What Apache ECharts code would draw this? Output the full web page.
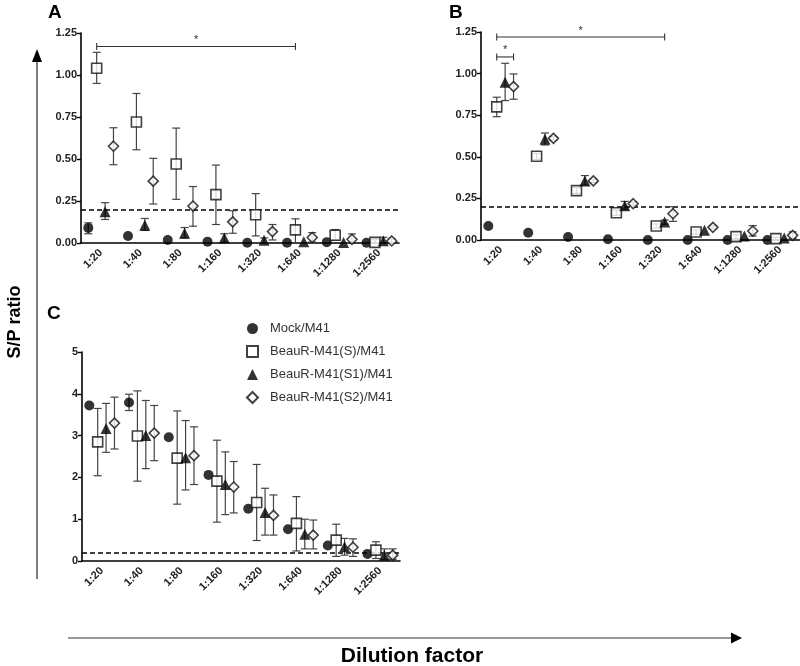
<!DOCTYPE html>
<html>
<head>
<meta charset="utf-8">
<script src="https://cdn.jsdelivr.net/npm/echarts@6/dist/echarts.min.js"></script>
<style>html,body{margin:0;padding:0;background:#fff}#c{width:800px;height:666px}</style>
</head>
<body>
<div id="c"></div>
<script>
const categories = ['1:20','1:40','1:80','1:160','1:320','1:640','1:1280','1:2560'];
const seriesNames = ['Mock/M41','BeauR-M41(S)/M41','BeauR-M41(S1)/M41','BeauR-M41(S2)/M41'];
const yTicksA = [0, 0.25, 0.5, 0.75, 1.0, 1.25];
const yTicksC = [0, 1, 2, 3, 4, 5];
const cutoff = 0.2;

// Panel A
const aMock = [0.09, 0.042, 0.018, 0.008, 0.002, 0.001, 0.005, 0.001];
const aMockErr = [[0.055,0.12], null, null, null, null, null, null, null];
const aS = [1.04, 0.72, 0.47, 0.288, 0.168, 0.078, 0.046, 0.004];
const aSErr = [[0.95,1.135],[0.555,0.89],[0.26,0.684],[0.11,0.464],[0.042,0.294],[0.0,0.144],[0.018,0.08],[0,0.02]];
const aS1 = [0.186, 0.106, 0.058, 0.03, 0.016, 0.008, 0.003, 0.013];
const aS1Err = [[0.14,0.24],[0.075,0.146],[0.03,0.092],[0.005,0.055],[0,0.03],null,null,[0,0.034]];
const aS2 = [0.576, 0.368, 0.22, 0.126, 0.068, 0.033, 0.022, 0.012];
const aS2Err = [[0.466,0.686],[0.232,0.504],[0.1,0.336],[0.058,0.192],[0.018,0.11],[0.006,0.062],[0,0.054],[0,0.025]];

// Panel B
const bMock = [0.084, 0.044, 0.018, 0.005, 0.0, 0.0, 0.0, 0.0];
const bMockErr = [null, null, null, null, null, null, null, null];
const bS = [0.80, 0.503, 0.297, 0.164, 0.084, 0.048, 0.02, 0.008];
const bSErr = [[0.741,0.858],[0.485,0.52],[0.28,0.315],[0.148,0.18],[0.072,0.096],[0.036,0.06],[0.008,0.032],[0,0.016]];
const bS1 = [0.948, 0.605, 0.355, 0.206, 0.108, 0.058, 0.024, 0.012];
const bS1Err = [[0.838,1.062],[0.571,0.643],[0.33,0.387],[0.185,0.232],[0.095,0.12],null,null,null];
const bS2 = [0.922, 0.611, 0.355, 0.218, 0.158, 0.076, 0.054, 0.028];
const bS2Err = [[0.846,0.998],[0.6,0.622],[0.345,0.365],[0.21,0.228],[0.112,0.2],[0.068,0.085],[0.024,0.086],[0.008,0.049]];

// Panel C
const cMock = [3.72, 3.79, 2.96, 2.06, 1.25, 0.76, 0.37, 0.17];
const cMockErr = [null, [3.6,3.99], null, null, null, null, null, null];
const cS = [2.85, 2.99, 2.46, 1.91, 1.40, 0.90, 0.50, 0.26];
const cSErr = [[2.04,3.65],[1.91,4.07],[1.36,3.59],[0.93,2.89],[0.49,2.31],[0.24,1.54],[0.11,0.88],[0.06,0.46]];
const cS1 = [3.17, 3.0, 2.47, 1.83, 1.16, 0.64, 0.34, 0.14];
const cS1Err = [[2.6,3.77],[2.21,3.84],[1.7,3.36],[1.11,2.61],[0.62,1.74],[0.29,1.0],[0.14,0.54],[0.04,0.29]];
const cS2 = [3.3, 3.06, 2.52, 1.77, 1.09, 0.62, 0.33, 0.14];
const cS2Err = [[2.68,3.92],[2.4,3.72],[1.83,3.21],[1.15,2.38],[0.62,1.58],[0.29,0.98],[0.11,0.53],[0.04,0.29]];

// significance brackets: [fromCategory, fromSeries, toCategory, toSeries, yLevel]
const bracketsA = [[0, 1, 5, 1, 1.17]];
const bracketsB = [[0, 1, 4, 2, 1.22], [0, 1, 0, 3, 1.10]];

const OFFS = [-12.6, -4.2, 4.2, 12.6];
const FONT = '"Liberation Sans", Arial, sans-serif';

const markerStyles = [
  {symbol:'circle', symbolSize:10, itemStyle:{color:'#000'}},
  {symbol:'rect', symbolSize:10, itemStyle:{color:'#fff', borderColor:'#111', borderWidth:1.6}},
  {symbol:'triangle', symbolSize:11, itemStyle:{color:'#000'}},
  {symbol:'diamond', symbolSize:10, itemStyle:{color:'#fff', borderColor:'#111', borderWidth:1.6}}
];

const panels = [
  {means:[aMock,aS,aS1,aS2], errs:[aMockErr,aSErr,aS1Err,aS2Err], brackets:bracketsA, max:1.25, interval:0.25, dec:2,
   grid:{left:81, top:33, width:318, height:210}},
  {means:[bMock,bS,bS1,bS2], errs:[bMockErr,bSErr,bS1Err,bS2Err], brackets:bracketsB, max:1.25, interval:0.25, dec:2,
   grid:{left:481, top:32, width:319, height:208}},
  {means:[cMock,cS,cS1,cS2], errs:[cMockErr,cSErr,cS1Err,cS2Err], brackets:[], max:5, interval:1, dec:0,
   grid:{left:82, top:352, width:318, height:209}}
];

const grids = [], xAxes = [], yAxes = [], series = [];
panels.forEach((p, pi) => {
  grids.push(Object.assign({containLabel:false}, p.grid));
  xAxes.push({
    type:'category', gridIndex:pi, data:categories, boundaryGap:true,
    axisLine:{lineStyle:{color:'#000', width:1.6}},
    axisTick:{alignWithLabel:true, length:5, lineStyle:{color:'#000', width:1.4}},
    axisLabel:{rotate:45, margin:8, fontSize:11, fontWeight:'bold', color:'#222', fontFamily:FONT, interval:0},
    splitLine:{show:false}
  });
  yAxes.push({
    type:'value', gridIndex:pi, min:0, max:p.max, interval:p.interval,
    axisLine:{show:true, lineStyle:{color:'#000', width:1.6}},
    axisTick:{show:true, length:4, lineStyle:{color:'#000', width:1.4}},
    axisLabel:{fontSize:11, fontWeight:'bold', color:'#222', fontFamily:FONT, margin:4,
      formatter: v => v.toFixed(p.dec)},
    splitLine:{show:false}
  });
  // error bars
  p.errs.forEach((errArr, si) => {
    const data = [];
    errArr.forEach((e, i) => { if (e) data.push([i, e[0], e[1]]); });
    const off = OFFS[si];
    series.push({
      type:'custom', name:'err'+pi+'_'+si, xAxisIndex:pi, yAxisIndex:pi, z:2, silent:true,
      data:data, encode:{x:0, y:[1,2]},
      renderItem:(params, api) => {
        const x = api.value(0);
        const lo = api.coord([x, api.value(1)]);
        const hi = api.coord([x, api.value(2)]);
        const cx = lo[0] + off;
        const st = {stroke:'#444', lineWidth:1.2};
        return {type:'group', children:[
          {type:'line', shape:{x1:cx, y1:lo[1], x2:cx, y2:hi[1]}, style:st},
          {type:'line', shape:{x1:cx-4, y1:lo[1], x2:cx+4, y2:lo[1]}, style:st},
          {type:'line', shape:{x1:cx-4, y1:hi[1], x2:cx+4, y2:hi[1]}, style:st}
        ]};
      }
    });
  });
  // markers
  p.means.forEach((arr, si) => {
    const s = Object.assign({
      type:'scatter', name:seriesNames[si], xAxisIndex:pi, yAxisIndex:pi, z:3,
      symbolOffset:[OFFS[si], 0], data:arr, silent:true
    }, JSON.parse(JSON.stringify(markerStyles[si])));
    if (si === 0) {
      s.markLine = {silent:true, symbol:'none', label:{show:false}, z:1,
        lineStyle:{type:[5,3], color:'#000', width:1.6},
        data:[{yAxis:cutoff}]};
    }
    series.push(s);
  });
  // brackets
  if (p.brackets.length) {
    series.push({
      type:'custom', name:'br'+pi, xAxisIndex:pi, yAxisIndex:pi, z:4, silent:true,
      data:p.brackets, encode:{x:0, y:4},
      renderItem:(params, api) => {
        const c1 = api.coord([api.value(0), api.value(4)]);
        const c2 = api.coord([api.value(2), api.value(4)]);
        const x1 = c1[0] + OFFS[api.value(1)];
        const x2 = c2[0] + OFFS[api.value(3)];
        const y = c1[1];
        const st = {stroke:'#333', lineWidth:1.1};
        return {type:'group', children:[
          {type:'line', shape:{x1:x1, y1:y, x2:x2, y2:y}, style:st},
          {type:'line', shape:{x1:x1, y1:y-3.5, x2:x1, y2:y+3.5}, style:st},
          {type:'line', shape:{x1:x2, y1:y-3.5, x2:x2, y2:y+3.5}, style:st},
          {type:'text', style:{text:'*', x:(x1+x2)/2, y:y-1, align:'center', verticalAlign:'bottom',
            fontSize:11, fill:'#333', fontFamily:FONT}}
        ]};
      }
    });
  }
});

const option = {
  animation:false,
  backgroundColor:'#fff',
  grid:grids, xAxis:xAxes, yAxis:yAxes, series:series,
  legend:{
    data:seriesNames, orient:'vertical', left:241, top:317, itemGap:10,
    itemWidth:11, itemHeight:11, selectedMode:false,
    textStyle:{fontSize:13, color:'#333', fontFamily:FONT, padding:[0,0,0,7]}
  },
  graphic:[
    {type:'line', shape:{x1:37, y1:579, x2:37, y2:60}, style:{stroke:'#555', lineWidth:1.5}},
    {type:'polygon', shape:{points:[[37,49],[32,62],[42,62]]}, style:{fill:'#000'}},
    {type:'line', shape:{x1:68, y1:638, x2:732, y2:638}, style:{stroke:'#777', lineWidth:1.6}},
    {type:'polygon', shape:{points:[[742,638],[731,632.5],[731,643.5]]}, style:{fill:'#000'}},
    {type:'text', x:15, y:322, rotation:Math.PI/2,
      style:{text:'S/P ratio', fontSize:18, fontWeight:'bold', fill:'#000', fontFamily:FONT, align:'center', verticalAlign:'middle'}},
    {type:'text', x:412, y:656,
      style:{text:'Dilution factor', fontSize:21, fontWeight:'bold', fill:'#000', fontFamily:FONT, align:'center', verticalAlign:'middle'}},
    {type:'text', x:48, y:3, style:{text:'A', fontSize:19, fontWeight:'bold', fill:'#000', fontFamily:FONT}},
    {type:'text', x:449, y:3, style:{text:'B', fontSize:19, fontWeight:'bold', fill:'#000', fontFamily:FONT}},
    {type:'text', x:47, y:304, style:{text:'C', fontSize:19, fontWeight:'bold', fill:'#000', fontFamily:FONT}}
  ]
};

const chart = echarts.init(document.getElementById('c'), null, {renderer:'canvas'});
chart.setOption(option);
</script>
</body>
</html>
